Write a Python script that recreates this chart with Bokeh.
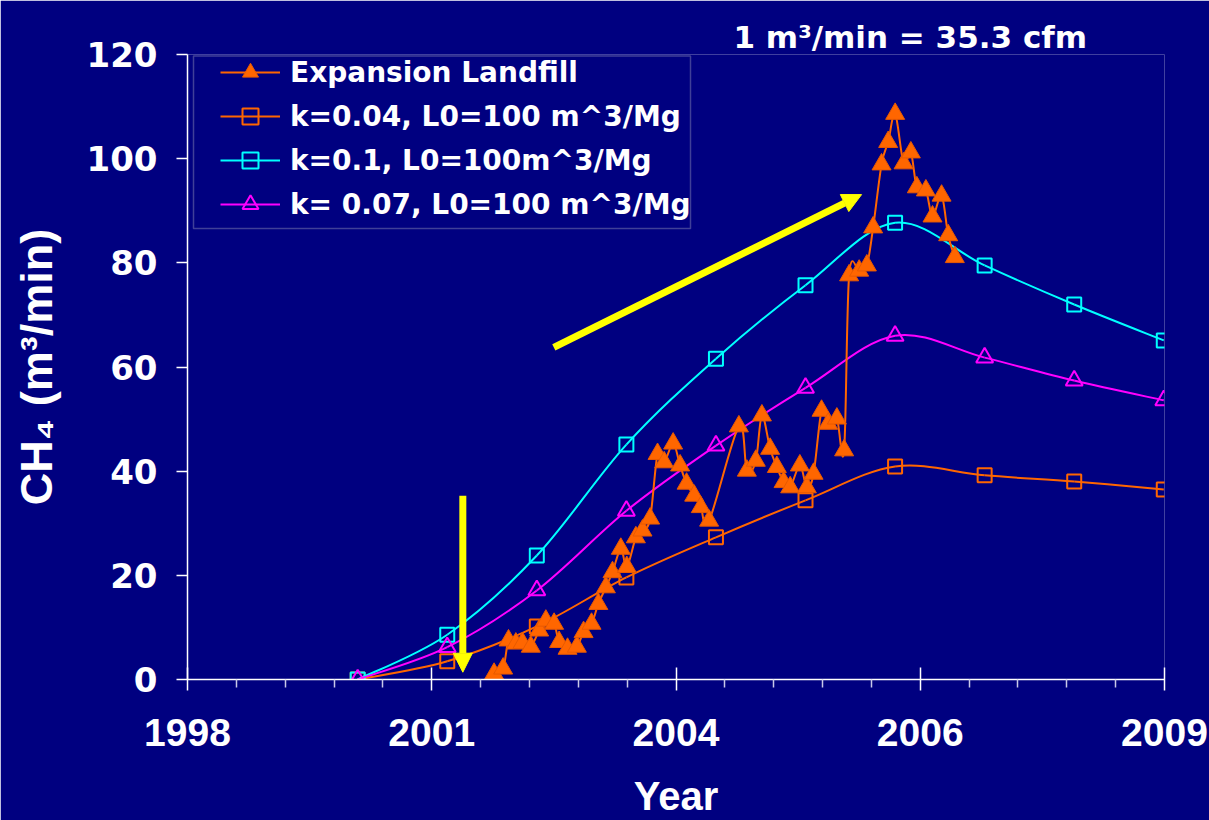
from bokeh.plotting import figure
from bokeh.models import (Range1d, FixedTicker, Legend, LegendItem, Title, Arrow,
                          NormalHead, BoxAnnotation, ColumnDataSource)
from bokeh.embed import file_html
from bokeh.resources import INLINE

# ---------------- data ----------------
X_TICKS = [1998.6, 2001.327, 2004.054, 2006.781, 2009.508]
X_TICK_LABELS = ["1998", "2001", "2004", "2006", "2009"]
Y_TICKS = [0, 20, 40, 60, 80, 100, 120]

MODEL_YEARS = [2000.5, 2001.5, 2002.5, 2003.5, 2004.5, 2005.5, 2006.5, 2007.5, 2008.5, 2009.5]
K004 = [0.0, 3.5, 10.2, 19.6, 27.3, 34.4, 40.9, 39.2, 38.0, 36.5]
K010 = [0.0, 8.6, 23.8, 45.1, 61.6, 75.7, 87.7, 79.5, 72.0, 65.1]
K007 = [0.0, 6.2, 17.1, 32.4, 44.9, 56.0, 66.0, 61.8, 57.4, 53.6]

LANDFILL_YEARS = [2002.023, 2002.124, 2002.184, 2002.266, 2002.340, 2002.433, 2002.526, 2002.601,
                  2002.693, 2002.749, 2002.843, 2002.947, 2003.022, 2003.111, 2003.187, 2003.271,
                  2003.345, 2003.438, 2003.505, 2003.606, 2003.680, 2003.765, 2003.848, 2003.922,
                  2004.022, 2004.100, 2004.172, 2004.257, 2004.331, 2004.424, 2004.756, 2004.845,
                  2004.945, 2005.013, 2005.105, 2005.180, 2005.255, 2005.329, 2005.437, 2005.515,
                  2005.590, 2005.679, 2005.753, 2005.850, 2005.931, 2005.987, 2006.099, 2006.185,
                  2006.255, 2006.349, 2006.423, 2006.501, 2006.595, 2006.676, 2006.743, 2006.844,
                  2006.918, 2007.019, 2007.093, 2007.167]
LANDFILL_CH4 = [1.1, 2.1, 7.5, 6.9, 7.0, 6.3, 9.4, 11.3, 10.7, 7.2,
                5.9, 6.3, 9.1, 10.7, 14.5, 17.7, 20.6, 25.1, 21.6, 27.3,
                28.6, 30.9, 43.3, 41.7, 45.3, 41.1, 37.6, 35.3, 33.1, 30.5,
                48.6, 40.1, 42.0, 50.7, 44.3, 40.8, 37.9, 36.9, 41.1, 36.9,
                39.5, 51.6, 49.1, 50.1, 44.0, 77.6, 78.5, 79.5, 86.8, 98.9,
                103.2, 108.6, 99.1, 101.2, 94.5, 93.9, 88.9, 92.9, 85.3, 81.1]

SERIES_LABELS = ["Expansion Landfill", "k=0.04, L0=100 m^3/Mg",
                 "k=0.1, L0=100m^3/Mg", "k= 0.07, L0=100 m^3/Mg"]
NOTE = "1 m\u00b3/min = 35.3 cfm"

# annotation positions (data units)
ARROW_DOWN = dict(x_start=2001.674, y_start=35.3, x_end=2001.674, y_end=1.4)
ARROW_UP = dict(x_start=2002.690, y_start=63.75, x_end=2006.126, y_end=93.1)

# ---------------- style ----------------
NAVY = "#000080"
ORANGE = "#FF6600"
CYAN = "#00FFFF"
MAGENTA = "#FF00FF"
YELLOW = "#FFFF00"
ARIAL = "Liberation Sans"
WIDE = "DejaVu Sans"


def smooth_source(xs, ys):
    """Cubic Bezier segments through the points (Excel-like smoothed line)."""
    n = len(xs)
    d = {k: [] for k in ("x0", "y0", "x1", "y1", "cx0", "cy0", "cx1", "cy1")}
    for i in range(n - 1):
        xp, yp = (xs[i - 1], ys[i - 1]) if i > 0 else (xs[i], ys[i])
        xn, yn = (xs[i + 2], ys[i + 2]) if i + 2 < n else (xs[i + 1], ys[i + 1])
        d["x0"].append(xs[i]); d["y0"].append(ys[i])
        d["x1"].append(xs[i + 1]); d["y1"].append(ys[i + 1])
        d["cx0"].append(xs[i] + (xs[i + 1] - xp) / 6.0)
        d["cy0"].append(ys[i] + (ys[i + 1] - yp) / 6.0)
        d["cx1"].append(xs[i + 1] - (xn - xs[i]) / 6.0)
        d["cy1"].append(ys[i + 1] - (yn - ys[i]) / 6.0)
    return ColumnDataSource(d)


p = figure(width=1209, height=820, output_backend="svg", toolbar_location=None,
           x_range=Range1d(X_TICKS[0], X_TICKS[-1]), y_range=Range1d(0, 120),
           min_border_left=187, min_border_right=45, min_border_top=54, min_border_bottom=141,
           background_fill_color=NAVY, border_fill_color=NAVY, outline_line_color=None)
p.grid.visible = False

# axes
minor = []
for a, b in zip(X_TICKS[:-1], X_TICKS[1:]):
    minor += [a + (b - a) * k / 5.0 for k in range(1, 5)]
p.xaxis.ticker = FixedTicker(ticks=X_TICKS, minor_ticks=minor)
p.xaxis.major_label_overrides = {t: l for t, l in zip(X_TICKS, X_TICK_LABELS)}
p.yaxis.ticker = FixedTicker(ticks=Y_TICKS)

for ax in (p.xaxis[0], p.yaxis[0]):
    ax.axis_line_color = "white"
    ax.axis_line_width = 1.5
    ax.major_tick_line_color = "white"
    ax.major_tick_line_width = 1.5
    ax.minor_tick_line_color = "#c8c8e8"
    ax.minor_tick_line_width = 1.5
    ax.major_label_text_color = "white"
    ax.major_label_text_font_style = "bold"
    ax.axis_label_text_color = "white"
    ax.axis_label_text_font = ARIAL
    ax.axis_label_text_font_style = "bold"

p.xaxis.major_tick_in = 12
p.xaxis.major_tick_out = 11
p.xaxis.minor_tick_in = 0
p.xaxis.minor_tick_out = 8
p.xaxis.major_label_text_font = ARIAL
p.xaxis.major_label_text_font_size = "39px"
p.xaxis.major_label_standoff = 28
p.xaxis.axis_label = "Year"
p.xaxis.axis_label_text_font_size = "40px"
p.xaxis.axis_label_standoff = 25

p.yaxis.major_tick_in = 0
p.yaxis.major_tick_out = 11
p.yaxis.minor_tick_out = 0
p.yaxis.major_label_text_font = WIDE
p.yaxis.major_label_text_font_size = "34px"
p.yaxis.major_label_standoff = 19
p.yaxis.axis_label = "CH\u2084 (m\u00b3/min)"
p.yaxis.axis_label_text_font_size = "45px"
p.yaxis.axis_label_standoff = 22

# model curves
k4_line = p.bezier(x0="x0", y0="y0", x1="x1", y1="y1", cx0="cx0", cy0="cy0", cx1="cx1", cy1="cy1",
                   source=smooth_source(MODEL_YEARS, K004), line_color=ORANGE, line_width=2)
k4_pts = p.scatter(MODEL_YEARS, K004, marker="square", size=14, fill_color=None,
                   line_color=ORANGE, line_width=2)
k10_line = p.bezier(x0="x0", y0="y0", x1="x1", y1="y1", cx0="cx0", cy0="cy0", cx1="cx1", cy1="cy1",
                    source=smooth_source(MODEL_YEARS, K010), line_color=CYAN, line_width=2)
k10_pts = p.scatter(MODEL_YEARS, K010, marker="square", size=14, fill_color=None,
                    line_color=CYAN, line_width=2)
k7_line = p.bezier(x0="x0", y0="y0", x1="x1", y1="y1", cx0="cx0", cy0="cy0", cx1="cx1", cy1="cy1",
                   source=smooth_source(MODEL_YEARS, K007), line_color=MAGENTA, line_width=2)
k7_pts = p.scatter(MODEL_YEARS, K007, marker="triangle", size=17, fill_color=None,
                   line_color=MAGENTA, line_width=2)

# measured landfill gas
lf_line = p.bezier(x0="x0", y0="y0", x1="x1", y1="y1", cx0="cx0", cy0="cy0", cx1="cx1", cy1="cy1",
                   source=smooth_source(LANDFILL_YEARS, LANDFILL_CH4), line_color=ORANGE, line_width=2)
lf_pts = p.scatter(LANDFILL_YEARS, LANDFILL_CH4, marker="triangle", size=19, fill_color=ORANGE,
                   line_color="#E85A00", line_width=1)

# arrows
for spec in (ARROW_DOWN, ARROW_UP):
    p.add_layout(Arrow(end=NormalHead(size=19, fill_color=YELLOW, line_color=YELLOW, line_width=1),
                       line_color=YELLOW, line_width=7, **spec))

# legend
legend = Legend(items=[
    LegendItem(label=SERIES_LABELS[0], renderers=[lf_line, lf_pts]),
    LegendItem(label=SERIES_LABELS[1], renderers=[k4_line, k4_pts]),
    LegendItem(label=SERIES_LABELS[2], renderers=[k10_line, k10_pts]),
    LegendItem(label=SERIES_LABELS[3], renderers=[k7_line, k7_pts]),
], location=(29, 451), glyph_width=60, glyph_height=40, label_height=40, spacing=4,
    padding=4, label_standoff=10, label_text_font=WIDE, label_text_font_style="bold",
    label_text_font_size="28px", label_text_color="white",
    border_line_alpha=0, background_fill_alpha=0)
p.add_layout(legend, "center")

p.add_layout(BoxAnnotation(left=6, right=503, top=623.5, bottom=451,
                           left_units="screen", right_units="screen",
                           top_units="screen", bottom_units="screen",
                           fill_color=None, line_color="#d0d0d0", line_width=1.5))

# conversion note above the plot
p.add_layout(Title(text=NOTE, align="left", offset=546, standoff=0, vertical_align="bottom",
                   text_font=WIDE, text_font_style="bold", text_font_size="31px",
                   text_color="white"), "above")

open("out.html", "w").write(file_html(p, INLINE))
